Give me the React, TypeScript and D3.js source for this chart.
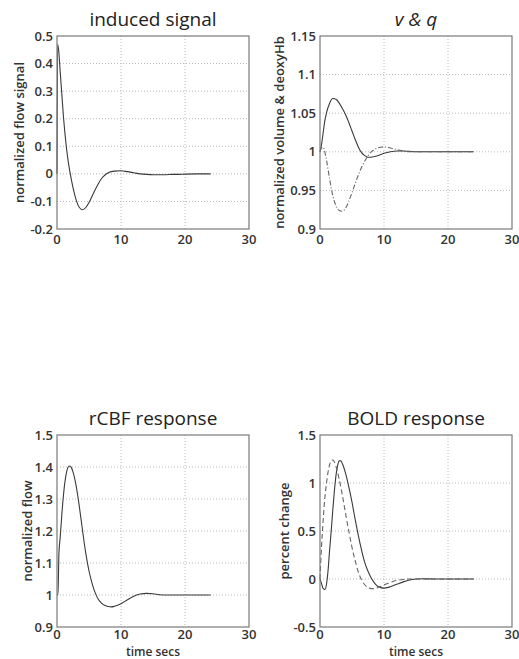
import React from "react";
import * as d3 from "d3";

// ---------- data ----------
const xTicks = [0, 10, 20, 30];

// induced (flow-inducing) signal
const sTime = [0, 0.1, 0.25, 0.5, 0.75, 1, 1.25, 1.5, 1.75, 2, 2.5, 3, 3.5, 4, 4.5, 5, 5.5, 6, 6.5, 7, 7.5, 8, 9, 10, 11, 12, 13, 14, 15, 16, 17, 18, 19, 20, 22, 24];
const sValues = [0, 0.47, 0.45, 0.37, 0.29, 0.21, 0.145, 0.09, 0.045, 0.01, -0.05, -0.095, -0.122, -0.13, -0.122, -0.104, -0.08, -0.056, -0.034, -0.016, -0.004, 0.004, 0.01, 0.011, 0.008, 0.004, 0.0, -0.002, -0.003, -0.003, -0.003, -0.002, -0.002, -0.001, 0, 0];
const sTickValues = [0.5, 0.4, 0.3, 0.2, 0.1, 0, -0.1, -0.2];
const sTickLabels = ["0.5", "0.4", "0.3", "0.2", "0.1", "0", "-0.1", "-0.2"];

// volume (v) and deoxyHb (q)
const vTime = [0, 0.25, 0.5, 0.75, 1, 1.5, 2, 2.5, 3, 3.5, 4, 4.5, 5, 5.5, 6, 6.5, 7, 7.5, 8, 8.5, 9, 10, 11, 12, 13, 14, 15, 16, 18, 20, 24];
const vValues = [1, 1.01, 1.025, 1.04, 1.05, 1.063, 1.069, 1.068, 1.063, 1.056, 1.048, 1.038, 1.027, 1.016, 1.006, 0.999, 0.995, 0.993, 0.993, 0.994, 0.995, 0.998, 1.0, 1.001, 1.001, 1.0005, 1.0, 1.0, 1.0, 1.0, 1.0];
const qTime = [0, 0.25, 0.5, 0.75, 1, 1.5, 2, 2.5, 3, 3.5, 4, 4.5, 5, 5.5, 6, 6.5, 7, 7.5, 8, 8.5, 9, 9.5, 10, 11, 12, 13, 14, 15, 16, 18, 20, 24];
const qValues = [1, 1.005, 1.006, 1.0, 0.99, 0.965, 0.943, 0.93, 0.924, 0.923, 0.927, 0.936, 0.947, 0.959, 0.97, 0.98, 0.988, 0.995, 1.0, 1.003, 1.005, 1.006, 1.0065, 1.005, 1.003, 1.001, 1.0, 1.0, 1.0, 1.0, 1.0, 1.0];
const vqTickValues = [1.15, 1.1, 1.05, 1, 0.95, 0.9];
const vqTickLabels = ["1.15", "1.1", "1.05", "1", "0.95", "0.9"];

// rCBF (normalized flow)
const fTime = [0, 0.15, 0.3, 0.5, 0.75, 1, 1.25, 1.5, 1.75, 2, 2.25, 2.5, 3, 3.5, 4, 4.5, 5, 5.5, 6, 6.5, 7, 7.5, 8, 8.5, 9, 10, 11, 12, 13, 14, 15, 16, 17, 20, 24];
const fValues = [1, 1.0, 1.13, 1.18, 1.25, 1.31, 1.355, 1.385, 1.4, 1.403, 1.398, 1.385, 1.34, 1.275, 1.2, 1.13, 1.075, 1.035, 1.005, 0.985, 0.974, 0.967, 0.964, 0.963, 0.965, 0.973, 0.985, 0.996, 1.003, 1.005, 1.004, 1.001, 1.0, 1.0, 1.0];
const fTickValues = [1.5, 1.4, 1.3, 1.2, 1.1, 1, 0.9];
const fTickLabels = ["1.5", "1.4", "1.3", "1.2", "1.1", "1", "0.9"];

// BOLD response (percent change)
const bTime = [0, 0.25, 0.5, 0.75, 1, 1.25, 1.5, 1.75, 2, 2.25, 2.5, 2.75, 3, 3.25, 3.5, 4, 4.5, 5, 5.5, 6, 6.5, 7, 7.5, 8, 8.5, 9, 9.5, 10, 10.5, 11, 12, 13, 14, 15, 16, 18, 20, 24];
const bSolid = [0, -0.05, -0.1, -0.11, -0.06, 0.08, 0.3, 0.5, 0.72, 0.92, 1.08, 1.18, 1.23, 1.23, 1.2, 1.1, 0.96, 0.8, 0.62, 0.45, 0.3, 0.17, 0.08, 0.01, -0.04, -0.075, -0.09, -0.095, -0.09, -0.08, -0.055, -0.03, -0.01, 0, 0.003, 0, 0, 0];
const dTime = [0, 0.25, 0.5, 0.75, 1, 1.25, 1.5, 1.75, 2, 2.25, 2.5, 3, 3.5, 4, 4.5, 5, 5.5, 6, 6.5, 7, 7.5, 8, 8.5, 9, 9.5, 10, 11, 12, 13, 14, 16, 20, 24];
const bDashed = [0, 0.35, 0.62, 0.84, 0.99, 1.11, 1.19, 1.235, 1.24, 1.22, 1.17, 1.04, 0.87, 0.68, 0.5, 0.33, 0.19, 0.07, -0.01, -0.06, -0.09, -0.1, -0.1, -0.09, -0.075, -0.06, -0.035, -0.015, -0.005, 0, 0, 0, 0];
const bTickValues = [1.5, 1, 0.5, 0, -0.5];
const bTickLabels = ["1.5", "1", "0.5", "0", "-0.5"];

// ---------- rendering ----------
const FONT = "'Open Sans', 'DejaVu Sans', sans-serif";

type Series = { t: number[]; y: number[]; dash?: string; color: string };

type PanelProps = {
  x0: number; x1: number; y0: number; y1: number;
  yDomain: [number, number];
  yTicks: number[]; yLabels: string[];
  title: string; titleItalic?: boolean;
  ylabel: string; ylabelX: number;
  xlabel?: string;
  xTickGap: number;
  series: Series[];
};

function Panel(p: PanelProps) {
  const x = d3.scaleLinear().domain([0, 30]).range([p.x0, p.x1]);
  const y = d3.scaleLinear().domain(p.yDomain).range([p.y1, p.y0]);
  const line = d3
    .line<[number, number]>()
    .x((d) => x(d[0]))
    .y((d) => y(d[1]))
    .curve(d3.curveMonotoneX);
  const cx = (p.x0 + p.x1) / 2;
  const cy = (p.y0 + p.y1) / 2;
  return (
    <g>
      {xTicks.slice(1, -1).map((t) => (
        <line key={"gx" + t} x1={x(t)} x2={x(t)} y1={p.y0} y2={p.y1} stroke="#b8b8b8" strokeWidth={1} strokeDasharray="1,2" />
      ))}
      {p.yTicks.slice(1, -1).map((t) => (
        <line key={"gy" + t} x1={p.x0} x2={p.x1} y1={y(t)} y2={y(t)} stroke="#b8b8b8" strokeWidth={1} strokeDasharray="1,2" />
      ))}
      {p.series.map((s, i) => (
        <path
          key={i}
          d={line(s.t.map((t, j) => [t, s.y[j]] as [number, number])) || ""}
          fill="none"
          stroke={s.color}
          strokeWidth={1.1}
          strokeDasharray={s.dash}
        />
      ))}
      <rect x={p.x0} y={p.y0} width={p.x1 - p.x0} height={p.y1 - p.y0} fill="none" stroke="#7a7a7a" strokeWidth={1.2} />
      {xTicks.map((t) => (
        <text key={"xl" + t} x={x(t)} y={p.y1 + p.xTickGap} textAnchor="middle" fontSize={13} fontWeight={600} fill="#333" fontFamily={FONT}>
          {t}
        </text>
      ))}
      {p.yTicks.map((t, i) => (
        <text key={"yl" + t} x={p.x0 - 4} y={y(t)} dy="0.35em" textAnchor="end" fontSize={13} fontWeight={600} fill="#333" fontFamily={FONT}>
          {p.yLabels[i]}
        </text>
      ))}
      <text x={cx} y={p.y0 - 10} textAnchor="middle" fontSize={19} fill="#222" fontFamily={FONT} fontStyle={p.titleItalic ? "italic" : "normal"}>
        {p.title}
      </text>
      <text
        transform={`translate(${p.ylabelX},${cy}) rotate(-90)`}
        textAnchor="middle"
        dy="0.35em"
        fontSize={13}
        fontWeight={600}
        fill="#333"
        fontFamily={FONT}
      >
        {p.ylabel}
      </text>
      {p.xlabel && (
        <text x={cx} y={p.y1 + 28.5} textAnchor="middle" fontSize={12} fontWeight={600} fill="#333" fontFamily={FONT}>
          {p.xlabel}
        </text>
      )}
    </g>
  );
}

export default function App() {
  return (
    <svg width={519} height={659} style={{ position: "absolute", left: 0, top: 0, background: "#fff" }}>
      <Panel
        x0={57} x1={249} y0={36} y1={229} xTickGap={15}
        yDomain={[-0.2, 0.5]} yTicks={sTickValues} yLabels={sTickLabels}
        title="induced signal" ylabel="normalized flow signal" ylabelX={19}
        series={[{ t: sTime, y: sValues, color: "#3a3a3a" }]}
      />
      <Panel
        x0={320} x1={512} y0={36} y1={229} xTickGap={15}
        yDomain={[0.9, 1.15]} yTicks={vqTickValues} yLabels={vqTickLabels}
        title="v & q" titleItalic ylabel="normalized volume & deoxyHb" ylabelX={279}
        series={[
          { t: vTime, y: vValues, color: "#3a3a3a" },
          { t: qTime, y: qValues, color: "#666", dash: "5,2,1,2" },
        ]}
      />
      <Panel
        x0={57} x1={249} y0={435} y1={627} xTickGap={12}
        yDomain={[0.9, 1.5]} yTicks={fTickValues} yLabels={fTickLabels}
        title="rCBF response" ylabel="normalized flow" ylabelX={27} xlabel="time secs"
        series={[{ t: fTime, y: fValues, color: "#3a3a3a" }]}
      />
      <Panel
        x0={320} x1={512} y0={435} y1={627} xTickGap={12}
        yDomain={[-0.5, 1.5]} yTicks={bTickValues} yLabels={bTickLabels}
        title="BOLD response" ylabel="percent change" ylabelX={284} xlabel="time secs"
        series={[
          { t: bTime, y: bSolid, color: "#3a3a3a" },
          { t: dTime, y: bDashed, color: "#666", dash: "5,3" },
        ]}
      />
    </svg>
  );
}
